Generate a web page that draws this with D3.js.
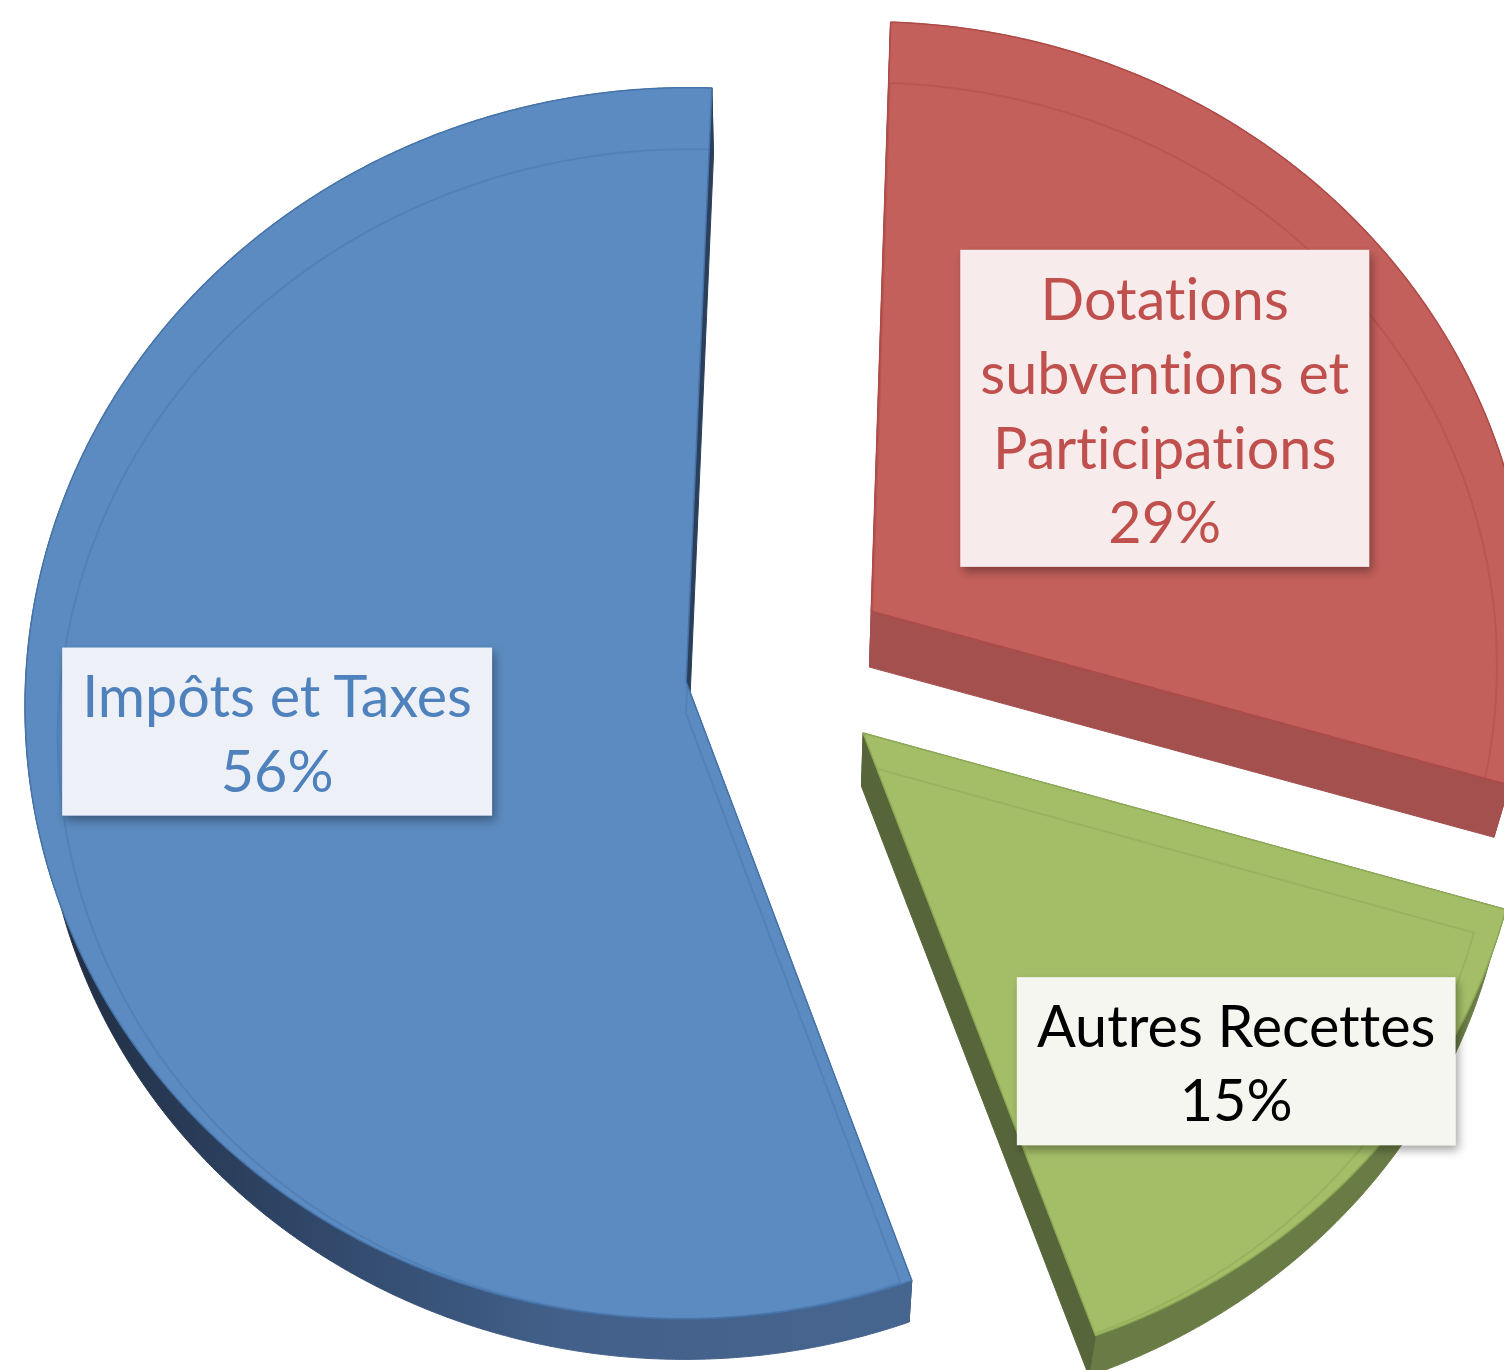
<!DOCTYPE html>
<html><head><meta charset="utf-8">
<script src="https://cdn.jsdelivr.net/npm/d3@7"></script>
<style>html,body{margin:0;padding:0;background:#fff;} svg{display:block;} text{font-variant-ligatures:none;font-feature-settings:"liga" 0,"clig" 0;}</style>
</head><body>
<svg id="chart" width="1504" height="1370"></svg>
<script>
// ---------- data ----------
const categories = ["Impôts et Taxes", "Dotations subventions et Participations", "Autres Recettes"];
const labelLines = [["Impôts et Taxes"], ["Dotations", "subventions et", "Participations"], ["Autres Recettes"]];
const values = [56, 29, 15];
const percentLabels = ["56%", "29%", "15%"];

// ---------- layout / style ----------
const W = 1504, H = 1370;
const cx = 788, cy = 667;          // pie centre on screen
const R = 660;                     // radius (world units)
const tiltK = 0.93;                // vertical compression of top face
const persp = 0.035 / 660;         // mild perspective
const explode = 103;               // explosion distance
const vanish = [788, 3190], shrink = 0.0217;  // extrusion towards vanishing point
const startDeg = 160.4;
const labelFrac = [0.624, 0.558, 0.758];
const labelDy = [-9, -6, 0];
const fontSize = 57.5, lineH = 74.5, padX = 20, padY = 9.5;
const topCol = ["#5B8BC0", "#C3605B", "#A4BE68"];
const edgeCol = ["#4674AA", "#AE4A47", "#8DA955"];
const radialCol = ["#2C3F5A", "#A3504E", "#56663A"];
const curvedCol = ["url(#blueSide)", "#A3504E", "#6A7C46"];
const innerCol = ["#4E7DB5", "#B5524F", "#93AE5A"];
const textCol = ["#4F81BD", "#C0504D", "#000000"];
const boxCol = ["#EDF1F7", "#F7ECEB", "#F4F6EF"];

const svg = d3.select("#chart");
const defs = svg.append("defs");
const flt = defs.append("filter").attr("id", "lblShadow")
  .attr("x", "-10%").attr("y", "-15%").attr("width", "125%").attr("height", "140%");
flt.append("feDropShadow").attr("dx", 3).attr("dy", 5).attr("stdDeviation", 5)
  .attr("flood-color", "#000").attr("flood-opacity", 0.35);
const g1 = defs.append("linearGradient").attr("id", "blueSide")
  .attr("gradientUnits", "userSpaceOnUse").attr("x1", 20).attr("y1", 0).attr("x2", 920).attr("y2", 0);
g1.append("stop").attr("offset", 0).attr("stop-color", "#1E2A3C");
g1.append("stop").attr("offset", 0.3).attr("stop-color", "#2F4566");
g1.append("stop").attr("offset", 0.6).attr("stop-color", "#42608A");
g1.append("stop").attr("offset", 1).attr("stop-color", "#46658F");

const pie = d3.pie().sort(null).value(d => d)
  .startAngle(startDeg * Math.PI / 180).endAngle((startDeg + 360) * Math.PI / 180);
const arcs = pie(values);

function proj(X, Z) { const s = 1 / (1 + persp * Z); return [cx + X * s, cy - Z * tiltK * s]; }
function down(p) { return [vanish[0] + (p[0] - vanish[0]) * (1 - shrink), vanish[1] + (p[1] - vanish[1]) * (1 - shrink)]; }
const line = d3.line();
const poly = pts => line(pts) + "Z";

const sideLayer = svg.append("g");
const topLayer = svg.append("g");
const labelLayer = svg.append("g");

arcs.forEach((a, i) => {
  const mid = (a.startAngle + a.endAngle) / 2;
  const ox = explode * Math.sin(mid), oz = explode * Math.cos(mid);
  const pt = (r, t) => proj(ox + r * Math.sin(t), oz + r * Math.cos(t));
  const n = Math.ceil((a.endAngle - a.startAngle) / (Math.PI / 720));
  const arcPts = d3.range(n + 1).map(j => pt(R, a.startAngle + (a.endAngle - a.startAngle) * j / n));
  const apex = pt(0, 0);
  const p0 = arcPts[0], p1 = arcPts[n];
  const startFace = [apex, p0, down(p0), down(apex)];
  const endFace = [apex, p1, down(p1), down(apex)];
  const startFront = Math.sin(a.startAngle) < 0;
  const endFront = Math.sin(a.endAngle) > 0;
  const g = sideLayer.append("g");
  const faceStyle = sel => sel.attr("fill", radialCol[i]).attr("stroke", radialCol[i]).attr("stroke-width", 1).attr("stroke-linejoin", "round");
  if (!startFront) faceStyle(g.append("path").attr("d", poly(startFace)));
  if (!endFront) faceStyle(g.append("path").attr("d", poly(endFace)));
  g.append("path").attr("d", poly(arcPts.concat(arcPts.map(down).reverse())))
    .attr("fill", curvedCol[i]).attr("stroke", curvedCol[i]).attr("stroke-width", 1);
  if (startFront) faceStyle(g.append("path").attr("d", poly(startFace)));
  if (endFront) faceStyle(g.append("path").attr("d", poly(endFace)));

  // top face
  const topPts = [apex].concat(arcPts);
  defs.append("clipPath").attr("id", "clip" + i).append("path").attr("d", poly(topPts));
  topLayer.append("path").attr("d", poly(topPts)).attr("fill", topCol[i]);
  // bevel line
  const B = pt(R, Math.PI);
  const inner = topPts.map(p => [B[0] + (p[0] - B[0]) * 0.95, B[1] + (p[1] - B[1]) * 0.95]);
  topLayer.append("path").attr("d", poly(inner)).attr("clip-path", `url(#clip${i})`)
    .attr("fill", "none").attr("stroke", innerCol[i]).attr("stroke-width", 2).attr("opacity", 0.7);
  topLayer.append("path").attr("d", poly(topPts)).attr("fill", "none")
    .attr("stroke", edgeCol[i]).attr("stroke-width", 1.5).attr("stroke-linejoin", "round");

  // label
  const lp = pt(labelFrac[i] * R, mid);
  const lc = [lp[0], lp[1] + labelDy[i]];
  const lines = labelLines[i].concat([percentLabels[i]]);
  const lg = labelLayer.append("g");
  const rect = lg.append("rect").attr("fill", boxCol[i]).attr("filter", "url(#lblShadow)");
  const txt = lg.append("text").attr("font-family", "Lato, 'Open Sans', sans-serif")
    .attr("font-size", fontSize).attr("fill", textCol[i]).attr("text-anchor", "middle");
  const first = lc[1] - (lines.length - 1) / 2 * lineH + 23;
  lines.forEach((s, j) => txt.append("tspan").attr("x", lc[0]).attr("y", first + j * lineH).text(s));
  let wmax = 0;
  txt.selectAll("tspan").each(function () { wmax = Math.max(wmax, this.getComputedTextLength()); });
  const bw = wmax + 2 * padX, bh = lines.length * lineH + 2 * padY;
  rect.attr("x", lc[0] - bw / 2).attr("y", lc[1] - bh / 2).attr("width", bw).attr("height", bh);
});
</script>
</body></html>
